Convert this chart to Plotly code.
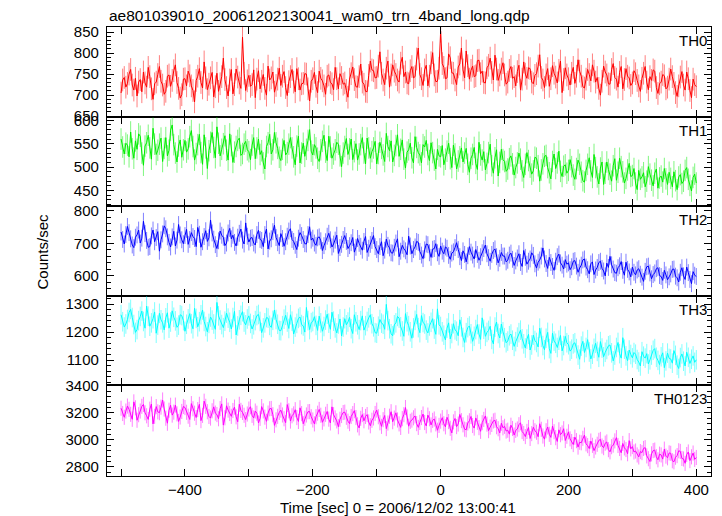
import numpy as np
import plotly.graph_objects as go

# time bins (sec), 2.5 s spacing from -500 to 400
time = np.linspace(-500, 400, 361)

th0 = [705, 736, 742, 719, 728, 750, 761, 724, 712, 740, 698, 731, 737, 708, 755, 729, 719, 766, 744, 715,
       690, 727, 731, 749, 768, 733, 724, 702, 709, 745, 748, 721, 735, 758, 772, 730, 716, 693, 701, 738,
       739, 722, 757, 746, 722, 711, 684, 735, 745, 763, 730, 717, 779, 741, 713, 726, 741, 754, 696, 720,
       752, 709, 727, 744, 788, 737, 718, 698, 736, 761, 703, 725, 762, 743, 729, 716, 838, 752, 711, 734,
       747, 721, 725, 760, 694, 738, 758, 715, 733, 749, 716, 700, 769, 736, 741, 755, 707, 723, 738, 764,
       723, 745, 756, 718, 699, 732, 744, 761, 731, 708, 763, 739, 712, 727, 728, 751, 750, 715, 686, 733,
       739, 754, 721, 706, 757, 740, 734, 722, 702, 745, 748, 730, 727, 713, 766, 739, 715, 751, 742, 726,
       729, 711, 695, 738, 751, 767, 737, 720, 719, 744, 774, 731, 726, 709, 708, 747, 781, 760, 758, 741,
       742, 769, 803, 752, 736, 725, 764, 781, 719, 748, 772, 757, 749, 736, 731, 776, 790, 744, 755, 729,
       727, 758, 768, 741, 744, 786, 812, 749, 739, 723, 760, 771, 722, 745, 777, 801, 748, 732, 733, 764,
       852, 775, 766, 739, 741, 798, 789, 753, 752, 736, 725, 767, 774, 812, 760, 741, 805, 770, 738, 759,
       769, 744, 746, 782, 783, 751, 757, 730, 729, 765, 771, 788, 754, 736, 795, 762, 735, 748, 762, 777,
       748, 726, 731, 759, 768, 740, 744, 722, 756, 771, 712, 738, 779, 750, 740, 765, 763, 731, 727, 747,
       751, 769, 796, 742, 736, 718, 748, 763, 721, 739, 770, 752, 743, 729, 759, 781, 706, 737, 765, 748,
       739, 724, 752, 766, 728, 745, 784, 757, 745, 720, 717, 738, 761, 749, 734, 772, 757, 731, 742, 716,
       700, 733, 769, 755, 748, 727, 726, 761, 775, 742, 738, 719, 754, 768, 715, 737, 763, 745, 741, 723,
       729, 758, 751, 735, 722, 709, 740, 752, 768, 731, 713, 744, 735, 760, 757, 718, 704, 727, 731, 749,
       746, 715, 719, 738, 762, 744, 728, 706, 697, 722, 743, 756, 724, 712, 755, 739, 711, 694, 738, 725,
       720]

th1 = [560, 543, 528, 551, 547, 522, 575, 539, 519, 556, 538, 571, 566, 530, 504, 545, 552, 568, 541, 517,
       583, 549, 527, 536, 549, 562, 512, 540, 563, 524, 536, 579, 590, 548, 530, 511, 545, 558, 521, 537,
       557, 532, 539, 565, 578, 544, 515, 529, 548, 570, 531, 506, 569, 541, 497, 535, 553, 574, 542, 520,
       586, 551, 524, 538, 550, 567, 536, 515, 571, 546, 510, 532, 544, 557, 562, 525, 529, 549, 555, 537,
       533, 516, 547, 563, 518, 541, 560, 527, 535, 509, 496, 544, 552, 570, 528, 537, 574, 552, 540, 521,
       514, 538, 557, 526, 531, 549, 563, 541, 522, 505, 545, 566, 509, 530, 551, 523, 538, 557, 580, 534,
       526, 548, 541, 519, 512, 537, 555, 568, 532, 514, 566, 543, 519, 528, 537, 553, 549, 524, 501, 530,
       544, 561, 527, 539, 560, 516, 533, 550, 515, 528, 548, 563, 530, 507, 562, 541, 519, 533, 541, 555,
       507, 529, 553, 540, 526, 512, 572, 544, 535, 556, 511, 525, 546, 569, 523, 538, 558, 517, 498, 532,
       537, 551, 520, 509, 565, 542, 531, 526, 509, 548, 543, 557, 527, 514, 552, 531, 515, 496, 538, 524,
       522, 546, 505, 517, 534, 551, 518, 499, 547, 528, 496, 513, 522, 541, 511, 530, 540, 506, 489, 519,
       527, 542, 508, 495, 553, 526, 515, 533, 494, 508, 531, 549, 503, 487, 520, 537, 481, 510, 538, 516,
       512, 491, 496, 518, 524, 507, 483, 499, 509, 530, 517, 492, 478, 506, 531, 514, 500, 485, 492, 521,
       519, 503, 470, 494, 507, 523, 525, 499, 488, 475, 512, 528, 497, 509, 534, 491, 480, 502, 505, 487,
       493, 516, 501, 483, 474, 497, 515, 506, 489, 471, 468, 493, 506, 520, 492, 478, 527, 499, 479, 464,
       498, 511, 463, 487, 511, 495, 485, 470, 503, 518, 472, 489, 519, 501, 490, 466, 476, 494, 508, 480,
       482, 497, 466, 452, 493, 474, 479, 488, 458, 470, 501, 485, 472, 460, 487, 496, 455, 477, 481, 468,
       497, 475, 463, 489, 476, 458, 490, 471, 452, 479, 484, 465, 470, 493, 499, 474, 461, 449, 478, 485,
       466]

th2 = [735, 712, 698, 727, 752, 733, 714, 695, 687, 719, 726, 741, 701, 716, 768, 730, 709, 688, 690, 723,
       741, 705, 718, 736, 676, 711, 729, 754, 745, 720, 703, 689, 720, 737, 692, 710, 758, 726, 711, 699,
       724, 743, 697, 712, 733, 721, 715, 690, 749, 728, 688, 705, 721, 739, 706, 717, 772, 732, 713, 696,
       684, 708, 738, 725, 719, 693, 701, 732, 746, 714, 725, 703, 692, 719, 731, 744, 710, 698, 763, 722,
       704, 716, 718, 701, 695, 727, 740, 712, 709, 690, 727, 744, 683, 707, 714, 736, 756, 718, 702, 693,
       730, 715, 691, 705, 722, 738, 745, 712, 706, 694, 681, 716, 733, 724, 712, 699, 698, 727, 751, 710,
       716, 701, 694, 717, 720, 708, 678, 693, 705, 722, 731, 711, 689, 698, 710, 725, 669, 687, 697, 712,
       724, 706, 684, 693, 702, 718, 673, 688, 715, 700, 691, 679, 706, 721, 672, 685, 697, 709, 724, 690,
       681, 668, 690, 705, 662, 679, 713, 694, 686, 671, 670, 688, 701, 714, 659, 676, 694, 683, 677, 665,
       722, 692, 668, 681, 689, 706, 703, 675, 664, 653, 680, 698, 696, 671, 657, 682, 684, 699, 671, 660,
       692, 676, 668, 689, 685, 663, 651, 670, 674, 687, 702, 681, 659, 647, 677, 666, 643, 662, 690, 673,
       664, 652, 681, 666, 648, 659, 671, 684, 695, 668, 656, 645, 666, 678, 683, 659, 640, 654, 672, 661,
       661, 643, 648, 664, 670, 651, 632, 646, 655, 668, 641, 629, 678, 657, 636, 645, 652, 671, 663, 637,
       624, 642, 649, 661, 686, 652, 638, 623, 657, 641, 629, 617, 645, 659, 667, 640, 633, 621, 650, 636,
       640, 619, 628, 645, 647, 630, 611, 624, 633, 649, 652, 627, 619, 606, 637, 643, 604, 618, 626, 641,
       645, 623, 615, 600, 639, 626, 660, 634, 621, 610, 608, 625, 631, 644, 617, 602, 642, 620, 612, 597,
       627, 611, 603, 618, 622, 605, 596, 583, 614, 628, 630, 609, 591, 604, 609, 622, 625, 601, 598, 586,
       617, 603, 588, 597, 606, 620, 621, 599, 594, 581, 611, 625, 600, 589, 627, 610, 589, 576, 613, 602,
       598]

th3 = [1262, 1237, 1218, 1229, 1245, 1270, 1281, 1252, 1227, 1199, 1209, 1241, 1256, 1275, 1238, 1214, 1293, 1257, 1221, 1233,
       1248, 1272, 1196, 1225, 1267, 1244, 1233, 1208, 1251, 1269, 1214, 1236, 1276, 1253, 1240, 1217, 1225, 1262, 1259, 1241,
       1203, 1228, 1247, 1266, 1230, 1212, 1285, 1249, 1219, 1237, 1262, 1279, 1238, 1220, 1201, 1231, 1254, 1243, 1229, 1210,
       1306, 1258, 1243, 1227, 1216, 1239, 1268, 1250, 1235, 1211, 1252, 1274, 1190, 1222, 1244, 1260, 1273, 1236, 1226, 1247,
       1258, 1231, 1211, 1226, 1241, 1259, 1263, 1238, 1198, 1215, 1233, 1252, 1250, 1224, 1217, 1242, 1279, 1245, 1228, 1206,
       1205, 1223, 1246, 1260, 1236, 1213, 1262, 1239, 1193, 1218, 1231, 1249, 1254, 1227, 1222, 1200, 1288, 1241, 1209, 1234,
       1238, 1255, 1224, 1206, 1257, 1233, 1203, 1220, 1243, 1264, 1232, 1210, 1271, 1239, 1215, 1197, 1229, 1247, 1186, 1218,
       1248, 1226, 1236, 1253, 1212, 1195, 1262, 1237, 1226, 1209, 1241, 1258, 1207, 1223, 1238, 1251, 1262, 1230, 1219, 1198,
       1196, 1221, 1245, 1232, 1228, 1210, 1299, 1241, 1212, 1194, 1187, 1226, 1233, 1256, 1250, 1219, 1204, 1185, 1266, 1237,
       1223, 1201, 1178, 1215, 1242, 1263, 1216, 1198, 1259, 1234, 1229, 1207, 1197, 1222, 1235, 1248, 1211, 1192, 1283, 1226,
       1220, 1201, 1189, 1172, 1214, 1233, 1176, 1195, 1230, 1208, 1203, 1187, 1244, 1219, 1181, 1163, 1198, 1216, 1222, 1194,
       1167, 1185, 1209, 1227, 1193, 1174, 1251, 1210, 1185, 1199, 1206, 1221, 1174, 1158, 1218, 1236, 1195, 1179, 1229, 1201,
       1180, 1162, 1168, 1187, 1193, 1171, 1149, 1166, 1182, 1198, 1207, 1176, 1158, 1143, 1175, 1192, 1136, 1154, 1189, 1170,
       1163, 1147, 1214, 1181, 1152, 1137, 1178, 1199, 1141, 1124, 1196, 1168, 1160, 1145, 1171, 1188, 1133, 1152, 1185, 1162,
       1155, 1132, 1139, 1158, 1162, 1141, 1118, 1103, 1150, 1167, 1127, 1145, 1173, 1129, 1104, 1121, 1142, 1160, 1131, 1110,
       1166, 1143, 1112, 1128, 1138, 1151, 1154, 1126, 1097, 1118, 1145, 1163, 1123, 1107, 1180, 1139, 1115, 1098, 1136, 1120,
       1108, 1127, 1121, 1102, 1093, 1079, 1130, 1114, 1107, 1123, 1086, 1101, 1118, 1135, 1141, 1110, 1099, 1084, 1112, 1126,
       1073, 1097, 1125, 1106, 1104, 1089, 1134, 1117, 1082, 1070, 1109, 1122, 1096, 1079, 1128, 1110, 1088, 1103, 1115, 1092,
       1101]

th0123 = [3235, 3196, 3168, 3214, 3251, 3227, 3190, 3153, 3282, 3238, 3146, 3187, 3214, 3249, 3263, 3201, 3179, 3152, 3228, 3266,
          3119, 3175, 3247, 3208, 3202, 3243, 3296, 3229, 3161, 3124, 3220, 3257, 3184, 3206, 3258, 3193, 3137, 3170, 3211, 3248,
          3240, 3205, 3176, 3152, 3269, 3231, 3198, 3166, 3225, 3264, 3143, 3182, 3287, 3249, 3209, 3174, 3162, 3216, 3245, 3199,
          3188, 3157, 3232, 3267, 3110, 3164, 3253, 3221, 3196, 3175, 3218, 3243, 3171, 3135, 3264, 3219, 3204, 3183, 3151, 3192,
          3229, 3246, 3182, 3163, 3214, 3198, 3126, 3160, 3247, 3215, 3169, 3138, 3199, 3231, 3233, 3187, 3108, 3149, 3175, 3204,
          3221, 3185, 3157, 3128, 3262, 3216, 3140, 3179, 3193, 3224, 3166, 3137, 3238, 3195, 3120, 3161, 3185, 3209, 3210, 3172,
          3148, 3119, 3172, 3198, 3226, 3183, 3131, 3156, 3190, 3211, 3154, 3126, 3245, 3187, 3163, 3141, 3098, 3153, 3181, 3203,
          3206, 3168, 3139, 3121, 3174, 3195, 3217, 3166, 3112, 3089, 3160, 3188, 3142, 3174, 3188, 3133, 3105, 3146, 3163, 3196,
          3221, 3172, 3127, 3101, 3150, 3181, 3084, 3125, 3176, 3209, 3135, 3162, 3201, 3148, 3119, 3093, 3158, 3187, 3240, 3170,
          3102, 3138, 3147, 3164, 3178, 3121, 3093, 3130, 3166, 3192, 3129, 3104, 3184, 3157, 3111, 3145, 3155, 3119, 3072, 3108,
          3139, 3165, 3120, 3097, 3168, 3136, 3086, 3052, 3134, 3159, 3099, 3118, 3189, 3143, 3112, 3080, 3075, 3126, 3142, 3174,
          3107, 3088, 3163, 3131, 3091, 3064, 3128, 3152, 3178, 3117, 3069, 3095, 3115, 3141, 3146, 3098, 3083, 3052, 3124, 3090,
          3101, 3066, 3072, 3043, 3109, 3085, 3036, 3071, 3081, 3113, 3127, 3062, 3048, 3025, 3063, 3092, 3011, 3047, 3094, 3068,
          3057, 3024, 3120, 3079, 3029, 3006, 3068, 3096, 3042, 3019, 3103, 3061, 3017, 2989, 3075, 3039, 3052, 3083, 2996, 3027,
          3060, 3008, 2988, 2966, 3021, 2995, 2947, 2983, 2979, 3012, 3036, 2971, 2958, 2936, 2992, 2960, 2921, 2948, 2968, 2997,
          3004, 2955, 2943, 2976, 2985, 2928, 2912, 2950, 2962, 2993, 3017, 2959, 2937, 2905, 2974, 2941, 2929, 2898, 2995, 2934,
          2951, 2911, 2918, 2889, 2874, 2914, 2906, 2937, 2943, 2882, 2861, 2840, 2897, 2921, 2925, 2876, 2853, 2895, 2889, 2858,
          2932, 2880, 2868, 2904, 2901, 2846, 2838, 2872, 2884, 2920, 2915, 2863, 2859, 2827, 2892, 2911, 2847, 2875, 2903, 2856,
          2870]

band_names = ["TH0", "TH1", "TH2", "TH3", "TH0123"]
band_values = [th0, th1, th2, th3, th0123]
band_errors = [27, 23, 26, 35, 56]
band_ranges = [[648, 862], [417, 607], [538, 815], [1011, 1329], [2733, 3407]]
band_dticks = [50, 50, 100, 100, 200]
band_minor = [10, 10, 20, 20, 40]
line_colors = ["#ff0000", "#00ee00", "#0000ff", "#00ffff", "#ff00ff"]
err_colors = ["rgba(255,0,0,0.5)", "rgba(0,238,0,0.5)", "rgba(0,0,255,0.5)",
              "rgba(0,255,255,0.5)", "rgba(255,0,255,0.5)"]

x_tickvals = [-500, -400, -300, -200, -100, 0, 100, 200, 300, 400]
x_ticktext = ["", "−400", "", "−200", "", "0", "", "200", "", "400"]

FONT = "Liberation Sans, Arial, Helvetica, sans-serif"

W, H = 722, 516
ml, mr, mt, mb = 107, 11, 27, 40
ph = H - mt - mb
edges_px = [27, 117, 206, 296, 385, 476]

fig = go.Figure()
layout = dict(
    width=W, height=H,
    margin=dict(l=ml, r=mr, t=mt, b=mb),
    paper_bgcolor="white", plot_bgcolor="white",
    showlegend=False,
    font=dict(family=FONT, size=15, color="black"),
)

annotations = []
for i in range(5):
    n = i + 1
    xa = "x" if n == 1 else f"x{n}"
    ya = "y" if n == 1 else f"y{n}"
    fig.add_trace(go.Scatter(
        x=time, y=band_values[i], mode="lines",
        line=dict(color=line_colors[i], width=1),
        error_y=dict(type="constant", value=band_errors[i], color=err_colors[i],
                     thickness=1, width=0),
        xaxis=xa, yaxis=ya, hoverinfo="skip",
    ))
    top = 1 - (edges_px[i] - mt) / ph
    bot = 1 - (edges_px[i + 1] - mt) / ph
    xkey = "xaxis" if n == 1 else f"xaxis{n}"
    ykey = "yaxis" if n == 1 else f"yaxis{n}"
    layout[xkey] = dict(
        domain=[0, 1], anchor=ya, range=[-522, 423],
        tickmode="array", tickvals=x_tickvals, ticktext=x_ticktext,
        ticks="inside", ticklen=7, tickwidth=1, tickcolor="black",
        showticklabels=(n == 5), showline=True, linecolor="black", linewidth=1.2,
        mirror="allticks", showgrid=False, zeroline=False,
        tickfont=dict(size=15),
    )
    if n != 1:
        layout[xkey]["matches"] = "x"
    layout[ykey] = dict(
        domain=[bot, top], anchor=xa, range=band_ranges[i],
        dtick=band_dticks[i], tick0=0,
        ticks="inside", ticklen=7, tickwidth=1, tickcolor="black",
        minor=dict(dtick=band_minor[i], ticks="inside", ticklen=4, tickcolor="black", tickwidth=1),
        showline=True, linecolor="black", linewidth=1.2,
        mirror="allticks", showgrid=False, zeroline=False,
        tickfont=dict(size=15), ticklabelstandoff=4,
    )
    annotations.append(dict(
        text=band_names[i], xref="paper", yref="paper",
        x=0.997, y=top - 0.006, xanchor="right", yanchor="top",
        showarrow=False, font=dict(size=15),
    ))

annotations.append(dict(
    text="ae801039010_20061202130041_wam0_trn_4band_long.qdp",
    xref="paper", yref="paper", x=0, y=1.0, xanchor="left", yanchor="bottom",
    yshift=1, showarrow=False, font=dict(size=15.5),
))
annotations.append(dict(
    text="Counts/sec", xref="paper", yref="paper", x=0, y=0.5,
    xanchor="center", yanchor="middle", xshift=-65, textangle=-90,
    showarrow=False, font=dict(size=15),
))
annotations.append(dict(
    text="Time [sec] 0 = 2006/12/02 13:00:41", xref="paper", yref="paper",
    x=0.482, y=0, xanchor="center", yanchor="top", yshift=-21,
    showarrow=False, font=dict(size=15),
))
layout["annotations"] = annotations
fig.update_layout(**layout)

fig.write_html("out.html", config={"displayModeBar": False},
               post_script="document.body.style.margin='0';document.body.style.overflow='hidden';")
